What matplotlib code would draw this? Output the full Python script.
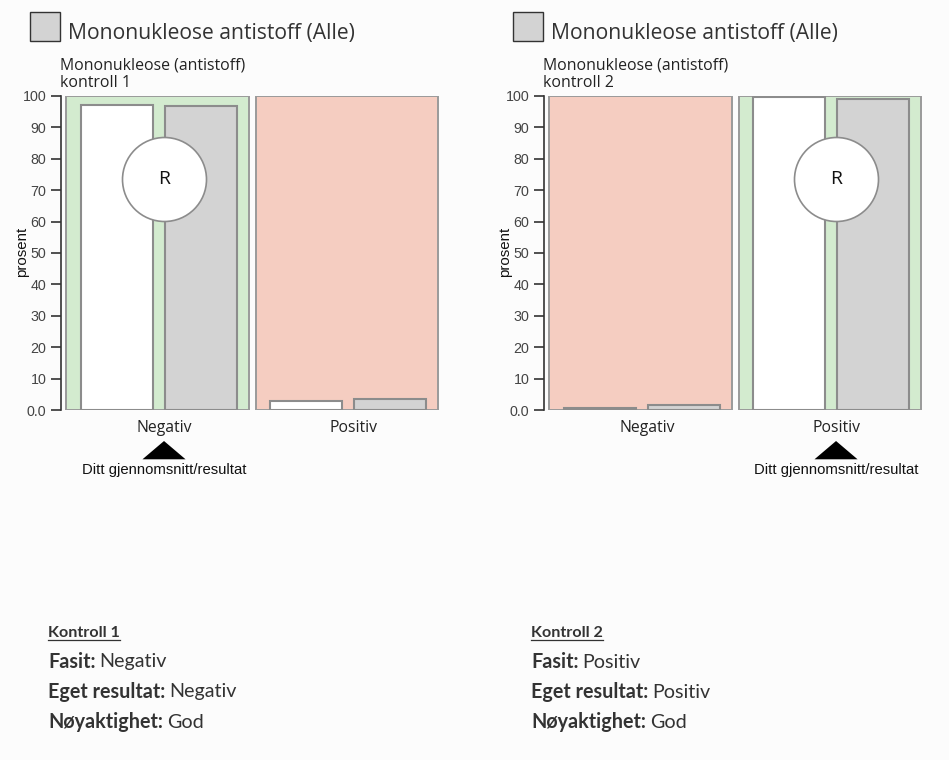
import matplotlib
matplotlib.use('Agg')
import matplotlib.pyplot as plt
from matplotlib.patches import Rectangle, Polygon
from matplotlib.lines import Line2D
import matplotlib.transforms as mtransforms

W, H = 949, 760
DPI = 100

# ---------------- data ----------------
categories = ["Negativ", "Positiv"]
yticks = [0, 10, 20, 30, 40, 50, 60, 70, 80, 90, 100]
ytick_labels = ["0.0", "10", "20", "30", "40", "50", "60", "70", "80", "90", "100"]

own_k1 = [97.2, 3.0]    # white bars, kontroll 1
all_k1 = [96.8, 3.5]    # grey bars (Alle), kontroll 1
own_k2 = [0.7, 99.5]    # white bars, kontroll 2
all_k2 = [1.6, 98.8]    # grey bars (Alle), kontroll 2

fasit_idx = [0, 1]      # correct category per control (green panel)
result_idx = [0, 1]     # own result category (triangle + R)
circle_value = [73.4, 73.4]

title = "Mononukleose antistoff (Alle)"
subtitles = ["Mononukleose (antistoff)\nkontroll 1", "Mononukleose (antistoff)\nkontroll 2"]
y_label = "prosent"
marker_label = "Ditt gjennomsnitt/resultat"
summary_heads = ["Kontroll 1", "Kontroll 2"]
fasit = ["Negativ", "Positiv"]
eget = ["Negativ", "Positiv"]
noyaktighet = ["God", "God"]

own_vals = [own_k1, own_k2]
all_vals = [all_k1, all_k2]

# ---------------- style ----------------
BG = '#fcfcfc'
GREEN = '#d3ebcf'
SALMON = '#f5cdc1'
GREY = '#d3d3d3'
EDGE = '#8c8c8c'
PANEL_EDGE = '#9a9a9a'
UI = 'Open Sans'
ARIAL = 'Liberation Sans'
BODY = 'Lato'

fig = plt.figure(figsize=(W / DPI, H / DPI), dpi=DPI, facecolor=BG)


def fx(px):
    return px / W


def fy(py):
    return 1 - py / H


offsets = [0, 483]
for c in range(2):
    off = offsets[c]
    ax_left = 61 + off
    ax = fig.add_axes([fx(ax_left), fy(410.3), 380.5 / W, 314.6 / H])
    ax.set_facecolor('none')
    ax.set_xlim(-0.513, 1.5)
    ax.set_ylim(0, 100)
    for s in ['top', 'right', 'bottom']:
        ax.spines[s].set_visible(False)
    ax.spines['left'].set_color('#333333')
    ax.spines['left'].set_linewidth(1.2)
    ax.set_yticks(yticks)
    ax.set_yticklabels(ytick_labels, fontfamily=ARIAL, fontsize=10.3, color='#444444')
    ax.tick_params(axis='y', length=7, width=1.2, color='#333333', pad=3.5)
    ax.set_xticks([])

    xs = list(range(len(categories)))
    for i in xs:
        fc = GREEN if i == fasit_idx[c] else SALMON
        ax.add_patch(Rectangle((i - 0.484, 0), 0.968, 100, facecolor=fc,
                               edgecolor=PANEL_EDGE, lw=1.4, zorder=1))
    ax.bar([x - 0.217 for x in xs], own_vals[c], width=0.38, color='white',
           edgecolor=EDGE, lw=1.5, zorder=3)
    ax.bar([x + 0.227 for x in xs], all_vals[c], width=0.38, color=GREY,
           edgecolor=EDGE, lw=1.5, zorder=3)

    # circle R
    xr = result_idx[c] + 0.032
    ax.scatter([xr], [circle_value[c]], s=(84 * 72 / DPI) ** 2, facecolor='white',
               edgecolor=EDGE, lw=1.2, zorder=5, clip_on=False)
    ax.text(xr, circle_value[c], "R", ha='center', va='center', fontfamily=UI,
            fontsize=14, color='#111111', zorder=6)

    bt = mtransforms.blended_transform_factory(ax.transData, fig.transFigure)
    for i, cat in enumerate(categories):
        ax.text(i + 0.032, fy(432.3), cat, transform=bt, ha='center', va='baseline',
                fontfamily=UI, fontsize=11.3, color='#222222', clip_on=False)

    # triangle marker
    tri = Polygon([(xr, fy(441)), (xr - 0.114, fy(459.3)), (xr + 0.114, fy(459.3))],
                  closed=True, transform=bt, facecolor='black', edgecolor='none',
                  clip_on=False)
    ax.add_patch(tri)
    ax.text(xr, fy(474), marker_label, transform=bt, ha='center', va='baseline',
            fontfamily=ARIAL, fontsize=10.7, color='#111111', clip_on=False)

    # y label
    fig.text(fx(22 + off), fy(252), y_label, rotation=90, ha='center', va='center',
             fontfamily=ARIAL, fontsize=10.8, color='#111111')

    # legend box and title
    fig.add_artist(Rectangle((fx(30 + off), fy(41.3)), 29.7 / W, 29 / H,
                             transform=fig.transFigure, facecolor=GREY,
                             edgecolor='#333333', lw=1.0))
    fig.text(fx(68 + off), fy(39.3), title, ha='left', va='baseline',
             fontfamily=UI, fontsize=15.2, color='#333333')

    # subtitle
    sub1, sub2 = subtitles[c].split("\n")
    fig.text(fx(60 + off), fy(70), sub1, ha='left', va='baseline',
             fontfamily=UI, fontsize=11.4, color='#222222')
    fig.text(fx(60 + off), fy(87.3), sub2, ha='left', va='baseline',
             fontfamily=UI, fontsize=11.4, color='#222222')

# ---------------- summary text ----------------
sum_x = [48, 531]
heads = []
for c in range(2):
    h = fig.text(fx(sum_x[c]), fy(637), summary_heads[c], ha='left', va='baseline',
                 fontfamily=BODY, fontweight='bold', fontsize=11.6, color='#333333')
    heads.append(h)
    rows = [("Fasit:", fasit[c]), ("Eget resultat:", eget[c]), ("Nøyaktighet:", noyaktighet[c])]
    for r, (lab, val) in enumerate(rows):
        yb = 667.5 + 30 * r
        t1 = fig.text(fx(sum_x[c]), fy(yb), lab, ha='left', va='baseline',
                      fontfamily=BODY, fontweight='bold', fontsize=14.2, color='#333333')
        fig.canvas.draw()
        bb = t1.get_window_extent()
        fig.text(bb.x1 / W + 4 / W, fy(yb), val, ha='left', va='baseline',
                 fontfamily=BODY, fontsize=14.2, color='#333333')

fig.canvas.draw()
for h in heads:
    bb = h.get_window_extent()
    fig.add_artist(Line2D([bb.x0 / W, bb.x1 / W], [fy(639.5), fy(639.5)],
                          transform=fig.transFigure, color='#333333', lw=0.9))

fig.savefig('out.png', dpi=DPI, facecolor=BG)
